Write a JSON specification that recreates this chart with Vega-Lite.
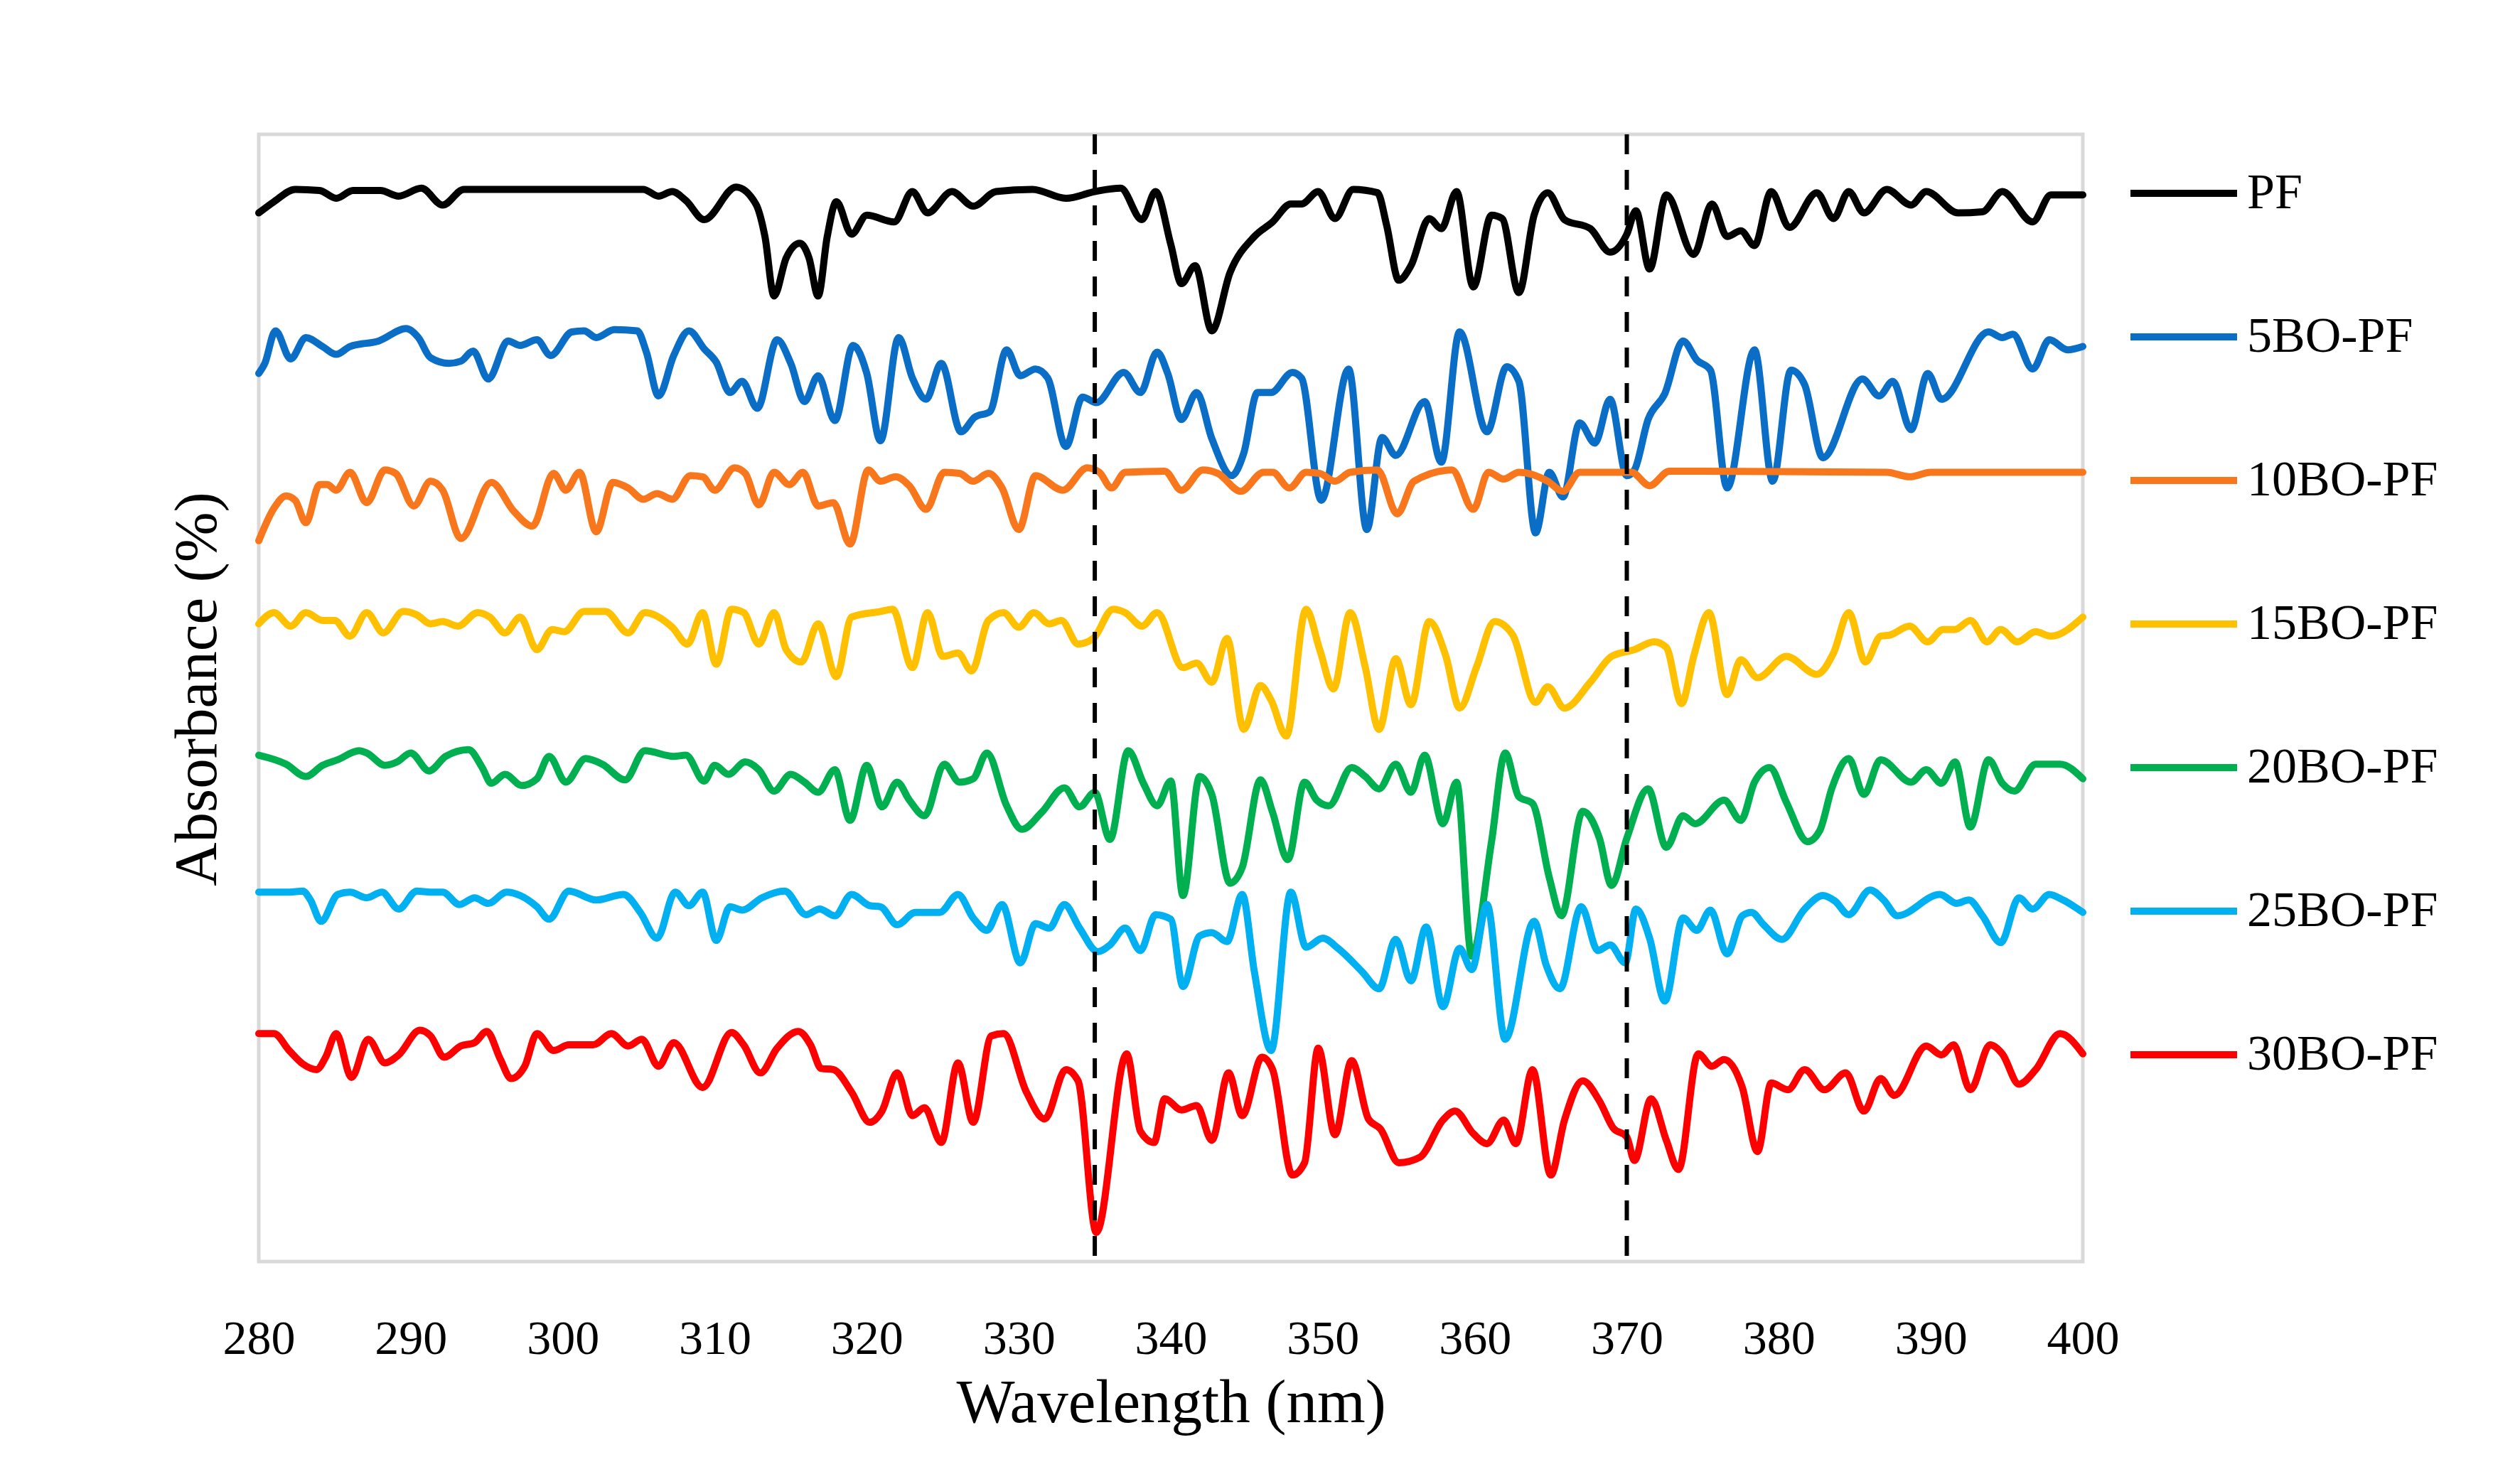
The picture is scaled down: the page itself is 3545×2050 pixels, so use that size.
{
  "$schema": "https://vega.github.io/schema/vega-lite/v6.json",
  "width": 2566,
  "height": 1586,
  "autosize": {"type": "none"},
  "padding": {"left": 364, "top": 189, "right": 615, "bottom": 275},
  "background": "white",
  "config": {
    "view": {"stroke": "#d9d9d9", "strokeWidth": 5},
    "font": "Liberation Serif"
  },
  "layer": [
    {
      "data": {"values": [
        {"series":"PF","nm":280.0,"abs":93.3},{"series":"PF","nm":281.0,"abs":94.3},{"series":"PF","nm":282.4,"abs":95.4},{"series":"PF","nm":284.0,"abs":95.3},{"series":"PF","nm":285.1,"abs":94.6},{"series":"PF","nm":286.2,"abs":95.3},{"series":"PF","nm":288.0,"abs":95.3},{"series":"PF","nm":289.2,"abs":94.8},{"series":"PF","nm":290.7,"abs":95.5},{"series":"PF","nm":292.1,"abs":94.0},{"series":"PF","nm":293.5,"abs":95.4},{"series":"PF","nm":305.3,"abs":95.4},{"series":"PF","nm":306.3,"abs":94.8},{"series":"PF","nm":307.2,"abs":95.2},{"series":"PF","nm":308.1,"abs":94.4},{"series":"PF","nm":309.3,"abs":92.7},{"series":"PF","nm":311.4,"abs":95.6},{"series":"PF","nm":312.7,"abs":94.1},{"series":"PF","nm":313.3,"abs":91.2},{"series":"PF","nm":313.9,"abs":85.9},{"series":"PF","nm":314.7,"abs":89.3},{"series":"PF","nm":315.6,"abs":90.6},{"series":"PF","nm":316.2,"abs":89.3},{"series":"PF","nm":316.8,"abs":85.9},{"series":"PF","nm":317.4,"abs":91.2},{"series":"PF","nm":318.0,"abs":94.3},{"series":"PF","nm":319.0,"abs":91.4},{"series":"PF","nm":320.0,"abs":93.1},{"series":"PF","nm":321.8,"abs":92.5},{"series":"PF","nm":323.0,"abs":95.2},{"series":"PF","nm":324.0,"abs":93.3},{"series":"PF","nm":325.6,"abs":95.2},{"series":"PF","nm":327.0,"abs":93.9},{"series":"PF","nm":328.5,"abs":95.2},{"series":"PF","nm":330.9,"abs":95.4},{"series":"PF","nm":333.1,"abs":94.6},{"series":"PF","nm":335.0,"abs":95.2},{"series":"PF","nm":336.7,"abs":95.5},{"series":"PF","nm":338.1,"abs":92.7},{"series":"PF","nm":339.0,"abs":95.2},{"series":"PF","nm":340.0,"abs":90.5},{"series":"PF","nm":340.7,"abs":87.0},{"series":"PF","nm":341.6,"abs":88.6},{"series":"PF","nm":342.7,"abs":82.8},{"series":"PF","nm":343.9,"abs":88.0},{"series":"PF","nm":345.5,"abs":91.2},{"series":"PF","nm":346.7,"abs":92.5},{"series":"PF","nm":347.9,"abs":94.1},{"series":"PF","nm":348.6,"abs":94.1},{"series":"PF","nm":349.7,"abs":95.2},{"series":"PF","nm":350.8,"abs":92.8},{"series":"PF","nm":352.0,"abs":95.4},{"series":"PF","nm":353.6,"abs":95.1},{"series":"PF","nm":354.2,"abs":92.2},{"series":"PF","nm":355.0,"abs":87.3},{"series":"PF","nm":355.8,"abs":88.6},{"series":"PF","nm":357.0,"abs":92.8},{"series":"PF","nm":357.8,"abs":91.9},{"series":"PF","nm":358.8,"abs":95.2},{"series":"PF","nm":359.9,"abs":86.7},{"series":"PF","nm":361.1,"abs":93.1},{"series":"PF","nm":361.8,"abs":92.8},{"series":"PF","nm":362.9,"abs":86.2},{"series":"PF","nm":363.9,"abs":93.1},{"series":"PF","nm":364.8,"abs":95.1},{"series":"PF","nm":365.9,"abs":92.7},{"series":"PF","nm":367.6,"abs":91.9},{"series":"PF","nm":368.9,"abs":89.8},{"series":"PF","nm":370.0,"abs":91.4},{"series":"PF","nm":370.6,"abs":93.5},{"series":"PF","nm":371.5,"abs":88.3},{"series":"PF","nm":372.6,"abs":94.9},{"series":"PF","nm":374.4,"abs":89.6},{"series":"PF","nm":375.6,"abs":94.1},{"series":"PF","nm":376.6,"abs":91.2},{"series":"PF","nm":377.5,"abs":91.7},{"series":"PF","nm":378.4,"abs":90.4},{"series":"PF","nm":379.5,"abs":95.2},{"series":"PF","nm":380.7,"abs":92.0},{"series":"PF","nm":382.5,"abs":95.1},{"series":"PF","nm":383.6,"abs":92.8},{"series":"PF","nm":384.6,"abs":95.2},{"series":"PF","nm":385.6,"abs":93.3},{"series":"PF","nm":387.1,"abs":95.4},{"series":"PF","nm":388.7,"abs":94.0},{"series":"PF","nm":389.7,"abs":95.2},{"series":"PF","nm":391.8,"abs":93.3},{"series":"PF","nm":393.4,"abs":93.4},{"series":"PF","nm":394.7,"abs":95.2},{"series":"PF","nm":396.7,"abs":92.5},{"series":"PF","nm":397.9,"abs":94.9},{"series":"PF","nm":400.0,"abs":94.9},

        {"series":"5BO-PF","nm":280.0,"abs":79.0},{"series":"5BO-PF","nm":280.4,"abs":79.9},{"series":"5BO-PF","nm":281.1,"abs":82.8},{"series":"5BO-PF","nm":282.1,"abs":80.3},{"series":"5BO-PF","nm":283.1,"abs":82.2},{"series":"5BO-PF","nm":284.2,"abs":81.4},{"series":"5BO-PF","nm":285.1,"abs":80.7},{"series":"5BO-PF","nm":286.0,"abs":81.4},{"series":"5BO-PF","nm":287.9,"abs":81.9},{"series":"5BO-PF","nm":289.7,"abs":83.0},{"series":"5BO-PF","nm":290.5,"abs":82.2},{"series":"5BO-PF","nm":291.3,"abs":80.4},{"series":"5BO-PF","nm":292.5,"abs":79.9},{"series":"5BO-PF","nm":293.3,"abs":80.1},{"series":"5BO-PF","nm":294.1,"abs":81.0},{"series":"5BO-PF","nm":295.1,"abs":78.5},{"series":"5BO-PF","nm":296.4,"abs":81.9},{"series":"5BO-PF","nm":297.2,"abs":81.5},{"series":"5BO-PF","nm":298.3,"abs":82.0},{"series":"5BO-PF","nm":299.2,"abs":80.6},{"series":"5BO-PF","nm":300.6,"abs":82.7},{"series":"5BO-PF","nm":301.4,"abs":82.8},{"series":"5BO-PF","nm":302.2,"abs":82.2},{"series":"5BO-PF","nm":303.4,"abs":82.9},{"series":"5BO-PF","nm":304.9,"abs":82.8},{"series":"5BO-PF","nm":305.5,"abs":80.9},{"series":"5BO-PF","nm":306.3,"abs":77.0},{"series":"5BO-PF","nm":307.3,"abs":80.6},{"series":"5BO-PF","nm":308.3,"abs":82.8},{"series":"5BO-PF","nm":309.3,"abs":81.2},{"series":"5BO-PF","nm":310.1,"abs":80.0},{"series":"5BO-PF","nm":311.0,"abs":77.3},{"series":"5BO-PF","nm":311.8,"abs":78.3},{"series":"5BO-PF","nm":312.8,"abs":75.9},{"series":"5BO-PF","nm":314.1,"abs":82.0},{"series":"5BO-PF","nm":315.0,"abs":79.9},{"series":"5BO-PF","nm":315.9,"abs":76.5},{"series":"5BO-PF","nm":316.8,"abs":78.8},{"series":"5BO-PF","nm":317.9,"abs":74.8},{"series":"5BO-PF","nm":319.1,"abs":81.5},{"series":"5BO-PF","nm":320.0,"abs":79.0},{"series":"5BO-PF","nm":320.9,"abs":73.0},{"series":"5BO-PF","nm":322.1,"abs":82.2},{"series":"5BO-PF","nm":323.0,"abs":78.6},{"series":"5BO-PF","nm":323.9,"abs":76.7},{"series":"5BO-PF","nm":324.9,"abs":79.9},{"series":"5BO-PF","nm":326.2,"abs":73.8},{"series":"5BO-PF","nm":327.1,"abs":75.1},{"series":"5BO-PF","nm":328.1,"abs":75.6},{"series":"5BO-PF","nm":329.2,"abs":81.1},{"series":"5BO-PF","nm":330.1,"abs":78.8},{"series":"5BO-PF","nm":331.1,"abs":79.4},{"series":"5BO-PF","nm":331.9,"abs":78.6},{"series":"5BO-PF","nm":333.1,"abs":72.5},{"series":"5BO-PF","nm":334.2,"abs":76.9},{"series":"5BO-PF","nm":335.1,"abs":76.4},{"series":"5BO-PF","nm":336.9,"abs":79.1},{"series":"5BO-PF","nm":338.0,"abs":77.3},{"series":"5BO-PF","nm":339.1,"abs":80.9},{"series":"5BO-PF","nm":339.8,"abs":79.0},{"series":"5BO-PF","nm":340.7,"abs":74.9},{"series":"5BO-PF","nm":341.7,"abs":77.3},{"series":"5BO-PF","nm":342.7,"abs":73.2},{"series":"5BO-PF","nm":344.0,"abs":69.9},{"series":"5BO-PF","nm":344.8,"abs":71.9},{"series":"5BO-PF","nm":345.7,"abs":77.3},{"series":"5BO-PF","nm":346.6,"abs":77.3},{"series":"5BO-PF","nm":348.0,"abs":79.1},{"series":"5BO-PF","nm":348.6,"abs":78.6},{"series":"5BO-PF","nm":349.9,"abs":67.7},{"series":"5BO-PF","nm":351.7,"abs":79.4},{"series":"5BO-PF","nm":352.9,"abs":65.1},{"series":"5BO-PF","nm":353.9,"abs":73.3},{"series":"5BO-PF","nm":354.8,"abs":71.7},{"series":"5BO-PF","nm":356.7,"abs":76.5},{"series":"5BO-PF","nm":357.8,"abs":71.1},{"series":"5BO-PF","nm":359.0,"abs":82.7},{"series":"5BO-PF","nm":360.8,"abs":73.8},{"series":"5BO-PF","nm":362.1,"abs":79.6},{"series":"5BO-PF","nm":362.9,"abs":78.3},{"series":"5BO-PF","nm":364.0,"abs":64.8},{"series":"5BO-PF","nm":364.9,"abs":70.2},{"series":"5BO-PF","nm":365.8,"abs":68.0},{"series":"5BO-PF","nm":366.9,"abs":74.6},{"series":"5BO-PF","nm":367.9,"abs":72.8},{"series":"5BO-PF","nm":368.9,"abs":76.7},{"series":"5BO-PF","nm":370.0,"abs":69.9},{"series":"5BO-PF","nm":370.5,"abs":70.4},{"series":"5BO-PF","nm":371.4,"abs":74.9},{"series":"5BO-PF","nm":372.5,"abs":77.2},{"series":"5BO-PF","nm":373.7,"abs":81.9},{"series":"5BO-PF","nm":374.6,"abs":80.2},{"series":"5BO-PF","nm":375.5,"abs":79.3},{"series":"5BO-PF","nm":376.6,"abs":68.8},{"series":"5BO-PF","nm":378.4,"abs":81.1},{"series":"5BO-PF","nm":379.6,"abs":69.4},{"series":"5BO-PF","nm":380.8,"abs":79.3},{"series":"5BO-PF","nm":381.7,"abs":78.0},{"series":"5BO-PF","nm":382.9,"abs":71.5},{"series":"5BO-PF","nm":385.5,"abs":78.5},{"series":"5BO-PF","nm":386.6,"abs":77.0},{"series":"5BO-PF","nm":387.5,"abs":78.3},{"series":"5BO-PF","nm":388.7,"abs":74.0},{"series":"5BO-PF","nm":389.8,"abs":79.0},{"series":"5BO-PF","nm":390.7,"abs":76.7},{"series":"5BO-PF","nm":393.8,"abs":82.7},{"series":"5BO-PF","nm":394.7,"abs":82.2},{"series":"5BO-PF","nm":395.4,"abs":82.5},{"series":"5BO-PF","nm":396.7,"abs":79.4},{"series":"5BO-PF","nm":397.8,"abs":82.0},{"series":"5BO-PF","nm":399.0,"abs":81.1},{"series":"5BO-PF","nm":400.0,"abs":81.4},

        {"series":"10BO-PF","nm":280.0,"abs":64.1},{"series":"10BO-PF","nm":281.0,"abs":67.0},{"series":"10BO-PF","nm":281.8,"abs":68.1},{"series":"10BO-PF","nm":282.4,"abs":67.7},{"series":"10BO-PF","nm":283.1,"abs":65.7},{"series":"10BO-PF","nm":284.0,"abs":69.1},{"series":"10BO-PF","nm":284.5,"abs":69.1},{"series":"10BO-PF","nm":285.1,"abs":68.6},{"series":"10BO-PF","nm":286.0,"abs":70.2},{"series":"10BO-PF","nm":287.1,"abs":67.5},{"series":"10BO-PF","nm":288.3,"abs":70.4},{"series":"10BO-PF","nm":289.0,"abs":70.1},{"series":"10BO-PF","nm":290.2,"abs":67.2},{"series":"10BO-PF","nm":291.3,"abs":69.4},{"series":"10BO-PF","nm":292.1,"abs":68.6},{"series":"10BO-PF","nm":293.3,"abs":64.3},{"series":"10BO-PF","nm":295.3,"abs":69.3},{"series":"10BO-PF","nm":296.8,"abs":66.7},{"series":"10BO-PF","nm":298.0,"abs":65.4},{"series":"10BO-PF","nm":299.4,"abs":70.1},{"series":"10BO-PF","nm":300.2,"abs":68.6},{"series":"10BO-PF","nm":301.1,"abs":70.2},{"series":"10BO-PF","nm":302.2,"abs":64.9},{"series":"10BO-PF","nm":303.3,"abs":69.3},{"series":"10BO-PF","nm":304.3,"abs":68.8},{"series":"10BO-PF","nm":305.3,"abs":67.8},{"series":"10BO-PF","nm":306.2,"abs":68.3},{"series":"10BO-PF","nm":307.2,"abs":67.8},{"series":"10BO-PF","nm":308.4,"abs":69.9},{"series":"10BO-PF","nm":309.2,"abs":69.8},{"series":"10BO-PF","nm":310.0,"abs":68.6},{"series":"10BO-PF","nm":311.3,"abs":70.6},{"series":"10BO-PF","nm":312.0,"abs":70.1},{"series":"10BO-PF","nm":312.9,"abs":67.3},{"series":"10BO-PF","nm":313.9,"abs":70.2},{"series":"10BO-PF","nm":314.9,"abs":69.1},{"series":"10BO-PF","nm":315.8,"abs":70.2},{"series":"10BO-PF","nm":316.8,"abs":67.2},{"series":"10BO-PF","nm":317.8,"abs":67.5},{"series":"10BO-PF","nm":318.9,"abs":63.8},{"series":"10BO-PF","nm":320.1,"abs":70.4},{"series":"10BO-PF","nm":320.9,"abs":69.4},{"series":"10BO-PF","nm":321.9,"abs":69.8},{"series":"10BO-PF","nm":322.8,"abs":69.0},{"series":"10BO-PF","nm":323.9,"abs":66.9},{"series":"10BO-PF","nm":325.1,"abs":70.2},{"series":"10BO-PF","nm":326.1,"abs":70.1},{"series":"10BO-PF","nm":327.0,"abs":69.4},{"series":"10BO-PF","nm":328.0,"abs":70.1},{"series":"10BO-PF","nm":328.9,"abs":68.8},{"series":"10BO-PF","nm":330.0,"abs":65.1},{"series":"10BO-PF","nm":331.1,"abs":69.9},{"series":"10BO-PF","nm":332.9,"abs":68.6},{"series":"10BO-PF","nm":334.5,"abs":70.6},{"series":"10BO-PF","nm":335.3,"abs":70.2},{"series":"10BO-PF","nm":336.1,"abs":68.8},{"series":"10BO-PF","nm":337.0,"abs":70.2},{"series":"10BO-PF","nm":339.6,"abs":70.3},{"series":"10BO-PF","nm":340.7,"abs":68.6},{"series":"10BO-PF","nm":342.1,"abs":70.4},{"series":"10BO-PF","nm":343.1,"abs":70.1},{"series":"10BO-PF","nm":344.6,"abs":68.5},{"series":"10BO-PF","nm":346.1,"abs":70.2},{"series":"10BO-PF","nm":346.7,"abs":70.2},{"series":"10BO-PF","nm":347.8,"abs":68.8},{"series":"10BO-PF","nm":348.9,"abs":70.2},{"series":"10BO-PF","nm":349.8,"abs":70.1},{"series":"10BO-PF","nm":350.8,"abs":69.4},{"series":"10BO-PF","nm":351.8,"abs":70.2},{"series":"10BO-PF","nm":353.6,"abs":70.4},{"series":"10BO-PF","nm":354.9,"abs":66.5},{"series":"10BO-PF","nm":356.0,"abs":69.4},{"series":"10BO-PF","nm":358.5,"abs":70.4},{"series":"10BO-PF","nm":359.9,"abs":66.9},{"series":"10BO-PF","nm":360.9,"abs":70.2},{"series":"10BO-PF","nm":361.9,"abs":69.6},{"series":"10BO-PF","nm":362.9,"abs":70.2},{"series":"10BO-PF","nm":364.8,"abs":69.4},{"series":"10BO-PF","nm":365.8,"abs":68.5},{"series":"10BO-PF","nm":366.9,"abs":70.2},{"series":"10BO-PF","nm":370.3,"abs":70.2},{"series":"10BO-PF","nm":371.5,"abs":69.0},{"series":"10BO-PF","nm":372.8,"abs":70.3},{"series":"10BO-PF","nm":387.1,"abs":70.2},{"series":"10BO-PF","nm":388.6,"abs":69.8},{"series":"10BO-PF","nm":390.0,"abs":70.2},{"series":"10BO-PF","nm":400.0,"abs":70.2},

        {"series":"15BO-PF","nm":280.0,"abs":56.7},{"series":"15BO-PF","nm":281.0,"abs":57.7},{"series":"15BO-PF","nm":282.1,"abs":56.5},{"series":"15BO-PF","nm":283.1,"abs":57.7},{"series":"15BO-PF","nm":284.2,"abs":57.0},{"series":"15BO-PF","nm":285.0,"abs":57.0},{"series":"15BO-PF","nm":286.0,"abs":55.6},{"series":"15BO-PF","nm":287.1,"abs":57.7},{"series":"15BO-PF","nm":288.2,"abs":55.9},{"series":"15BO-PF","nm":289.5,"abs":57.8},{"series":"15BO-PF","nm":290.4,"abs":57.5},{"series":"15BO-PF","nm":291.3,"abs":56.7},{"series":"15BO-PF","nm":292.1,"abs":56.9},{"series":"15BO-PF","nm":293.1,"abs":56.5},{"series":"15BO-PF","nm":294.4,"abs":57.7},{"series":"15BO-PF","nm":295.2,"abs":57.3},{"series":"15BO-PF","nm":296.2,"abs":55.9},{"series":"15BO-PF","nm":297.2,"abs":57.3},{"series":"15BO-PF","nm":298.3,"abs":54.4},{"series":"15BO-PF","nm":299.3,"abs":56.2},{"series":"15BO-PF","nm":300.1,"abs":56.0},{"series":"15BO-PF","nm":301.4,"abs":57.8},{"series":"15BO-PF","nm":302.8,"abs":57.8},{"series":"15BO-PF","nm":304.3,"abs":55.9},{"series":"15BO-PF","nm":305.4,"abs":57.7},{"series":"15BO-PF","nm":307.2,"abs":56.4},{"series":"15BO-PF","nm":308.2,"abs":54.9},{"series":"15BO-PF","nm":309.2,"abs":57.7},{"series":"15BO-PF","nm":310.1,"abs":53.1},{"series":"15BO-PF","nm":311.1,"abs":58.0},{"series":"15BO-PF","nm":311.9,"abs":57.7},{"series":"15BO-PF","nm":312.9,"abs":54.9},{"series":"15BO-PF","nm":313.9,"abs":57.7},{"series":"15BO-PF","nm":314.7,"abs":54.4},{"series":"15BO-PF","nm":315.7,"abs":53.3},{"series":"15BO-PF","nm":316.8,"abs":56.7},{"series":"15BO-PF","nm":318.0,"abs":52.0},{"series":"15BO-PF","nm":319.0,"abs":57.3},{"series":"15BO-PF","nm":320.9,"abs":57.8},{"series":"15BO-PF","nm":321.7,"abs":58.0},{"series":"15BO-PF","nm":323.0,"abs":52.8},{"series":"15BO-PF","nm":324.0,"abs":57.7},{"series":"15BO-PF","nm":325.0,"abs":53.8},{"series":"15BO-PF","nm":326.0,"abs":54.1},{"series":"15BO-PF","nm":326.9,"abs":52.5},{"series":"15BO-PF","nm":328.0,"abs":57.0},{"series":"15BO-PF","nm":329.0,"abs":57.7},{"series":"15BO-PF","nm":330.0,"abs":56.4},{"series":"15BO-PF","nm":331.0,"abs":57.7},{"series":"15BO-PF","nm":332.0,"abs":56.7},{"series":"15BO-PF","nm":332.8,"abs":57.0},{"series":"15BO-PF","nm":333.9,"abs":54.9},{"series":"15BO-PF","nm":334.9,"abs":55.4},{"series":"15BO-PF","nm":336.2,"abs":58.0},{"series":"15BO-PF","nm":337.0,"abs":57.7},{"series":"15BO-PF","nm":338.1,"abs":56.5},{"series":"15BO-PF","nm":339.1,"abs":57.7},{"series":"15BO-PF","nm":340.8,"abs":52.8},{"series":"15BO-PF","nm":341.7,"abs":53.2},{"series":"15BO-PF","nm":342.7,"abs":51.5},{"series":"15BO-PF","nm":343.7,"abs":55.4},{"series":"15BO-PF","nm":344.8,"abs":47.3},{"series":"15BO-PF","nm":345.9,"abs":51.2},{"series":"15BO-PF","nm":346.6,"abs":49.9},{"series":"15BO-PF","nm":347.6,"abs":46.7},{"series":"15BO-PF","nm":348.9,"abs":58.0},{"series":"15BO-PF","nm":349.8,"abs":54.4},{"series":"15BO-PF","nm":350.7,"abs":50.9},{"series":"15BO-PF","nm":351.8,"abs":57.7},{"series":"15BO-PF","nm":352.8,"abs":52.8},{"series":"15BO-PF","nm":353.7,"abs":47.3},{"series":"15BO-PF","nm":354.8,"abs":53.6},{"series":"15BO-PF","nm":355.8,"abs":49.5},{"series":"15BO-PF","nm":357.0,"abs":56.9},{"series":"15BO-PF","nm":358.1,"abs":53.8},{"series":"15BO-PF","nm":359.0,"abs":49.2},{"series":"15BO-PF","nm":360.1,"abs":52.8},{"series":"15BO-PF","nm":361.3,"abs":56.9},{"series":"15BO-PF","nm":362.5,"abs":55.7},{"series":"15BO-PF","nm":364.0,"abs":49.7},{"series":"15BO-PF","nm":364.8,"abs":51.1},{"series":"15BO-PF","nm":365.9,"abs":49.2},{"series":"15BO-PF","nm":367.6,"abs":51.5},{"series":"15BO-PF","nm":369.0,"abs":53.8},{"series":"15BO-PF","nm":370.5,"abs":54.4},{"series":"15BO-PF","nm":371.8,"abs":55.1},{"series":"15BO-PF","nm":372.6,"abs":54.6},{"series":"15BO-PF","nm":373.6,"abs":49.6},{"series":"15BO-PF","nm":374.4,"abs":53.8},{"series":"15BO-PF","nm":375.4,"abs":57.7},{"series":"15BO-PF","nm":376.6,"abs":50.4},{"series":"15BO-PF","nm":377.5,"abs":53.5},{"series":"15BO-PF","nm":378.6,"abs":51.9},{"series":"15BO-PF","nm":380.5,"abs":53.8},{"series":"15BO-PF","nm":382.5,"abs":52.2},{"series":"15BO-PF","nm":383.6,"abs":54.1},{"series":"15BO-PF","nm":384.6,"abs":57.7},{"series":"15BO-PF","nm":385.7,"abs":53.3},{"series":"15BO-PF","nm":386.7,"abs":55.6},{"series":"15BO-PF","nm":387.3,"abs":55.7},{"series":"15BO-PF","nm":388.6,"abs":56.5},{"series":"15BO-PF","nm":389.8,"abs":55.1},{"series":"15BO-PF","nm":390.8,"abs":56.2},{"series":"15BO-PF","nm":391.6,"abs":56.2},{"series":"15BO-PF","nm":392.6,"abs":57.0},{"series":"15BO-PF","nm":393.7,"abs":55.1},{"series":"15BO-PF","nm":394.6,"abs":56.2},{"series":"15BO-PF","nm":395.7,"abs":55.1},{"series":"15BO-PF","nm":396.9,"abs":56.0},{"series":"15BO-PF","nm":397.9,"abs":55.6},{"series":"15BO-PF","nm":400.0,"abs":57.3},

        {"series":"20BO-PF","nm":280.0,"abs":45.0},{"series":"20BO-PF","nm":281.8,"abs":44.2},{"series":"20BO-PF","nm":283.1,"abs":43.1},{"series":"20BO-PF","nm":284.2,"abs":44.1},{"series":"20BO-PF","nm":285.2,"abs":44.6},{"series":"20BO-PF","nm":286.6,"abs":45.4},{"series":"20BO-PF","nm":287.1,"abs":45.2},{"series":"20BO-PF","nm":288.3,"abs":44.1},{"series":"20BO-PF","nm":289.1,"abs":44.4},{"series":"20BO-PF","nm":290.0,"abs":45.2},{"series":"20BO-PF","nm":291.2,"abs":43.6},{"series":"20BO-PF","nm":292.3,"abs":44.9},{"series":"20BO-PF","nm":293.8,"abs":45.5},{"series":"20BO-PF","nm":294.7,"abs":43.9},{"series":"20BO-PF","nm":295.3,"abs":42.5},{"series":"20BO-PF","nm":296.2,"abs":43.3},{"series":"20BO-PF","nm":297.3,"abs":42.3},{"series":"20BO-PF","nm":298.3,"abs":42.9},{"series":"20BO-PF","nm":299.1,"abs":44.9},{"series":"20BO-PF","nm":300.2,"abs":42.6},{"series":"20BO-PF","nm":301.5,"abs":44.7},{"series":"20BO-PF","nm":302.6,"abs":44.2},{"series":"20BO-PF","nm":304.1,"abs":42.8},{"series":"20BO-PF","nm":305.4,"abs":45.4},{"series":"20BO-PF","nm":307.3,"abs":44.9},{"series":"20BO-PF","nm":308.1,"abs":45.0},{"series":"20BO-PF","nm":309.3,"abs":42.7},{"series":"20BO-PF","nm":310.0,"abs":44.1},{"series":"20BO-PF","nm":310.9,"abs":43.3},{"series":"20BO-PF","nm":312.0,"abs":44.4},{"series":"20BO-PF","nm":312.9,"abs":43.7},{"series":"20BO-PF","nm":313.9,"abs":41.8},{"series":"20BO-PF","nm":315.0,"abs":43.3},{"series":"20BO-PF","nm":315.9,"abs":42.6},{"series":"20BO-PF","nm":316.8,"abs":41.7},{"series":"20BO-PF","nm":317.9,"abs":43.7},{"series":"20BO-PF","nm":318.9,"abs":39.2},{"series":"20BO-PF","nm":320.0,"abs":44.1},{"series":"20BO-PF","nm":321.0,"abs":40.4},{"series":"20BO-PF","nm":322.0,"abs":42.6},{"series":"20BO-PF","nm":322.8,"abs":41.0},{"series":"20BO-PF","nm":323.8,"abs":39.6},{"series":"20BO-PF","nm":325.1,"abs":44.2},{"series":"20BO-PF","nm":326.1,"abs":42.6},{"series":"20BO-PF","nm":327.0,"abs":42.9},{"series":"20BO-PF","nm":327.9,"abs":45.2},{"series":"20BO-PF","nm":329.2,"abs":40.5},{"series":"20BO-PF","nm":330.2,"abs":38.4},{"series":"20BO-PF","nm":331.5,"abs":39.9},{"series":"20BO-PF","nm":333.0,"abs":42.1},{"series":"20BO-PF","nm":334.0,"abs":40.4},{"series":"20BO-PF","nm":335.0,"abs":41.7},{"series":"20BO-PF","nm":336.0,"abs":37.5},{"series":"20BO-PF","nm":337.2,"abs":45.4},{"series":"20BO-PF","nm":338.2,"abs":42.5},{"series":"20BO-PF","nm":339.1,"abs":40.5},{"series":"20BO-PF","nm":340.0,"abs":42.7},{"series":"20BO-PF","nm":340.8,"abs":32.5},{"series":"20BO-PF","nm":341.9,"abs":43.1},{"series":"20BO-PF","nm":342.7,"abs":41.5},{"series":"20BO-PF","nm":343.9,"abs":33.6},{"series":"20BO-PF","nm":344.7,"abs":35.0},{"series":"20BO-PF","nm":345.9,"abs":42.8},{"series":"20BO-PF","nm":346.7,"abs":39.9},{"series":"20BO-PF","nm":347.7,"abs":35.7},{"series":"20BO-PF","nm":348.8,"abs":42.6},{"series":"20BO-PF","nm":349.6,"abs":41.0},{"series":"20BO-PF","nm":350.4,"abs":40.5},{"series":"20BO-PF","nm":351.9,"abs":43.9},{"series":"20BO-PF","nm":352.8,"abs":43.1},{"series":"20BO-PF","nm":353.7,"abs":42.0},{"series":"20BO-PF","nm":354.8,"abs":44.2},{"series":"20BO-PF","nm":355.8,"abs":41.7},{"series":"20BO-PF","nm":356.7,"abs":45.0},{"series":"20BO-PF","nm":357.9,"abs":38.9},{"series":"20BO-PF","nm":358.8,"abs":42.6},{"series":"20BO-PF","nm":359.8,"abs":27.1},{"series":"20BO-PF","nm":361.1,"abs":37.3},{"series":"20BO-PF","nm":362.0,"abs":45.2},{"series":"20BO-PF","nm":362.9,"abs":41.3},{"series":"20BO-PF","nm":363.8,"abs":40.7},{"series":"20BO-PF","nm":364.9,"abs":34.1},{"series":"20BO-PF","nm":365.7,"abs":30.7},{"series":"20BO-PF","nm":367.1,"abs":40.0},{"series":"20BO-PF","nm":368.2,"abs":37.6},{"series":"20BO-PF","nm":369.0,"abs":33.4},{"series":"20BO-PF","nm":370.0,"abs":37.6},{"series":"20BO-PF","nm":371.4,"abs":42.0},{"series":"20BO-PF","nm":372.6,"abs":36.8},{"series":"20BO-PF","nm":373.7,"abs":39.6},{"series":"20BO-PF","nm":374.5,"abs":38.9},{"series":"20BO-PF","nm":376.4,"abs":41.0},{"series":"20BO-PF","nm":377.5,"abs":39.2},{"series":"20BO-PF","nm":378.4,"abs":42.6},{"series":"20BO-PF","nm":379.4,"abs":43.9},{"series":"20BO-PF","nm":380.5,"abs":40.8},{"series":"20BO-PF","nm":381.9,"abs":37.3},{"series":"20BO-PF","nm":382.7,"abs":38.3},{"series":"20BO-PF","nm":383.5,"abs":42.1},{"series":"20BO-PF","nm":384.6,"abs":44.7},{"series":"20BO-PF","nm":385.6,"abs":41.5},{"series":"20BO-PF","nm":386.7,"abs":44.6},{"series":"20BO-PF","nm":388.7,"abs":42.6},{"series":"20BO-PF","nm":389.7,"abs":43.7},{"series":"20BO-PF","nm":390.7,"abs":42.5},{"series":"20BO-PF","nm":391.6,"abs":44.4},{"series":"20BO-PF","nm":392.6,"abs":38.6},{"series":"20BO-PF","nm":393.8,"abs":44.6},{"series":"20BO-PF","nm":394.7,"abs":42.5},{"series":"20BO-PF","nm":395.5,"abs":41.8},{"series":"20BO-PF","nm":396.9,"abs":44.2},{"series":"20BO-PF","nm":398.5,"abs":44.2},{"series":"20BO-PF","nm":400.0,"abs":42.9},

        {"series":"25BO-PF","nm":280.0,"abs":32.8},{"series":"25BO-PF","nm":282.0,"abs":32.8},{"series":"25BO-PF","nm":282.9,"abs":32.9},{"series":"25BO-PF","nm":283.4,"abs":32.1},{"series":"25BO-PF","nm":284.1,"abs":30.2},{"series":"25BO-PF","nm":285.2,"abs":32.6},{"series":"25BO-PF","nm":286.0,"abs":32.8},{"series":"25BO-PF","nm":287.1,"abs":32.3},{"series":"25BO-PF","nm":288.1,"abs":32.8},{"series":"25BO-PF","nm":289.2,"abs":31.3},{"series":"25BO-PF","nm":290.4,"abs":32.9},{"series":"25BO-PF","nm":291.3,"abs":32.8},{"series":"25BO-PF","nm":292.1,"abs":32.8},{"series":"25BO-PF","nm":293.2,"abs":31.7},{"series":"25BO-PF","nm":294.2,"abs":32.3},{"series":"25BO-PF","nm":295.1,"abs":31.8},{"series":"25BO-PF","nm":296.3,"abs":32.8},{"series":"25BO-PF","nm":297.2,"abs":32.5},{"series":"25BO-PF","nm":298.3,"abs":31.5},{"series":"25BO-PF","nm":299.1,"abs":30.4},{"series":"25BO-PF","nm":300.4,"abs":32.9},{"series":"25BO-PF","nm":302.2,"abs":32.1},{"series":"25BO-PF","nm":304.0,"abs":32.6},{"series":"25BO-PF","nm":305.1,"abs":31.0},{"series":"25BO-PF","nm":306.2,"abs":28.7},{"series":"25BO-PF","nm":307.4,"abs":32.8},{"series":"25BO-PF","nm":308.3,"abs":31.6},{"series":"25BO-PF","nm":309.2,"abs":32.8},{"series":"25BO-PF","nm":310.1,"abs":28.5},{"series":"25BO-PF","nm":311.0,"abs":31.5},{"series":"25BO-PF","nm":311.8,"abs":31.2},{"series":"25BO-PF","nm":313.1,"abs":32.3},{"series":"25BO-PF","nm":314.6,"abs":32.9},{"series":"25BO-PF","nm":316.0,"abs":30.8},{"series":"25BO-PF","nm":316.9,"abs":31.3},{"series":"25BO-PF","nm":317.9,"abs":30.7},{"series":"25BO-PF","nm":319.0,"abs":32.6},{"series":"25BO-PF","nm":320.2,"abs":31.6},{"series":"25BO-PF","nm":320.9,"abs":31.5},{"series":"25BO-PF","nm":322.0,"abs":29.9},{"series":"25BO-PF","nm":323.2,"abs":31.0},{"series":"25BO-PF","nm":324.8,"abs":31.0},{"series":"25BO-PF","nm":326.0,"abs":32.6},{"series":"25BO-PF","nm":327.0,"abs":30.5},{"series":"25BO-PF","nm":327.9,"abs":29.4},{"series":"25BO-PF","nm":328.9,"abs":31.7},{"series":"25BO-PF","nm":330.1,"abs":26.5},{"series":"25BO-PF","nm":331.1,"abs":30.0},{"series":"25BO-PF","nm":332.0,"abs":29.6},{"series":"25BO-PF","nm":333.0,"abs":31.7},{"series":"25BO-PF","nm":334.0,"abs":29.6},{"series":"25BO-PF","nm":335.2,"abs":27.5},{"series":"25BO-PF","nm":336.0,"abs":28.1},{"series":"25BO-PF","nm":337.0,"abs":29.6},{"series":"25BO-PF","nm":338.0,"abs":27.6},{"series":"25BO-PF","nm":339.0,"abs":30.8},{"series":"25BO-PF","nm":340.0,"abs":30.4},{"series":"25BO-PF","nm":340.8,"abs":24.4},{"series":"25BO-PF","nm":341.9,"abs":28.9},{"series":"25BO-PF","nm":342.7,"abs":29.2},{"series":"25BO-PF","nm":343.7,"abs":28.4},{"series":"25BO-PF","nm":344.7,"abs":32.6},{"series":"25BO-PF","nm":345.5,"abs":25.7},{"series":"25BO-PF","nm":346.6,"abs":18.7},{"series":"25BO-PF","nm":347.9,"abs":32.8},{"series":"25BO-PF","nm":348.9,"abs":27.9},{"series":"25BO-PF","nm":350.0,"abs":28.7},{"series":"25BO-PF","nm":351.0,"abs":27.8},{"series":"25BO-PF","nm":352.6,"abs":25.7},{"series":"25BO-PF","nm":353.7,"abs":24.2},{"series":"25BO-PF","nm":354.8,"abs":28.6},{"series":"25BO-PF","nm":355.8,"abs":24.9},{"series":"25BO-PF","nm":356.8,"abs":29.7},{"series":"25BO-PF","nm":357.9,"abs":22.6},{"series":"25BO-PF","nm":359.0,"abs":27.8},{"series":"25BO-PF","nm":359.8,"abs":25.9},{"series":"25BO-PF","nm":360.8,"abs":31.7},{"series":"25BO-PF","nm":362.0,"abs":19.7},{"series":"25BO-PF","nm":363.9,"abs":30.2},{"series":"25BO-PF","nm":364.7,"abs":26.3},{"series":"25BO-PF","nm":365.6,"abs":24.2},{"series":"25BO-PF","nm":367.0,"abs":31.5},{"series":"25BO-PF","nm":368.1,"abs":27.6},{"series":"25BO-PF","nm":368.9,"abs":28.1},{"series":"25BO-PF","nm":369.9,"abs":26.5},{"series":"25BO-PF","nm":370.6,"abs":31.3},{"series":"25BO-PF","nm":371.5,"abs":28.7},{"series":"25BO-PF","nm":372.5,"abs":23.1},{"series":"25BO-PF","nm":373.7,"abs":30.5},{"series":"25BO-PF","nm":374.6,"abs":29.4},{"series":"25BO-PF","nm":375.5,"abs":31.2},{"series":"25BO-PF","nm":376.6,"abs":27.3},{"series":"25BO-PF","nm":377.6,"abs":30.7},{"series":"25BO-PF","nm":378.2,"abs":31.0},{"series":"25BO-PF","nm":379.0,"abs":29.9},{"series":"25BO-PF","nm":380.2,"abs":28.6},{"series":"25BO-PF","nm":381.7,"abs":31.3},{"series":"25BO-PF","nm":382.9,"abs":32.5},{"series":"25BO-PF","nm":383.7,"abs":32.0},{"series":"25BO-PF","nm":384.6,"abs":30.8},{"series":"25BO-PF","nm":386.0,"abs":33.0},{"series":"25BO-PF","nm":386.9,"abs":32.1},{"series":"25BO-PF","nm":387.8,"abs":30.7},{"series":"25BO-PF","nm":390.6,"abs":32.6},{"series":"25BO-PF","nm":391.7,"abs":31.8},{"series":"25BO-PF","nm":392.5,"abs":32.1},{"series":"25BO-PF","nm":393.4,"abs":30.7},{"series":"25BO-PF","nm":394.6,"abs":28.3},{"series":"25BO-PF","nm":395.8,"abs":32.3},{"series":"25BO-PF","nm":396.7,"abs":31.3},{"series":"25BO-PF","nm":397.8,"abs":32.6},{"series":"25BO-PF","nm":398.7,"abs":32.1},{"series":"25BO-PF","nm":400.0,"abs":31.0},

        {"series":"30BO-PF","nm":280.0,"abs":20.2},{"series":"30BO-PF","nm":281.0,"abs":20.2},{"series":"30BO-PF","nm":282.0,"abs":18.7},{"series":"30BO-PF","nm":282.9,"abs":17.5},{"series":"30BO-PF","nm":283.8,"abs":17.0},{"series":"30BO-PF","nm":284.4,"abs":18.1},{"series":"30BO-PF","nm":285.1,"abs":20.2},{"series":"30BO-PF","nm":286.1,"abs":16.3},{"series":"30BO-PF","nm":287.2,"abs":19.7},{"series":"30BO-PF","nm":288.3,"abs":17.6},{"series":"30BO-PF","nm":289.2,"abs":18.3},{"series":"30BO-PF","nm":290.6,"abs":20.5},{"series":"30BO-PF","nm":291.3,"abs":20.0},{"series":"30BO-PF","nm":292.2,"abs":18.1},{"series":"30BO-PF","nm":293.3,"abs":19.1},{"series":"30BO-PF","nm":294.2,"abs":19.4},{"series":"30BO-PF","nm":295.0,"abs":20.4},{"series":"30BO-PF","nm":295.9,"abs":17.9},{"series":"30BO-PF","nm":296.6,"abs":16.2},{"series":"30BO-PF","nm":297.5,"abs":17.3},{"series":"30BO-PF","nm":298.3,"abs":20.2},{"series":"30BO-PF","nm":299.4,"abs":18.7},{"series":"30BO-PF","nm":300.4,"abs":19.2},{"series":"30BO-PF","nm":302.0,"abs":19.2},{"series":"30BO-PF","nm":303.2,"abs":20.2},{"series":"30BO-PF","nm":304.3,"abs":19.1},{"series":"30BO-PF","nm":305.2,"abs":19.7},{"series":"30BO-PF","nm":306.3,"abs":17.3},{"series":"30BO-PF","nm":307.3,"abs":19.4},{"series":"30BO-PF","nm":309.2,"abs":15.4},{"series":"30BO-PF","nm":311.1,"abs":20.3},{"series":"30BO-PF","nm":311.9,"abs":19.2},{"series":"30BO-PF","nm":313.0,"abs":16.7},{"series":"30BO-PF","nm":314.1,"abs":18.9},{"series":"30BO-PF","nm":315.5,"abs":20.4},{"series":"30BO-PF","nm":316.3,"abs":19.2},{"series":"30BO-PF","nm":317.0,"abs":17.1},{"series":"30BO-PF","nm":317.8,"abs":17.0},{"series":"30BO-PF","nm":319.0,"abs":15.0},{"series":"30BO-PF","nm":320.2,"abs":12.3},{"series":"30BO-PF","nm":321.0,"abs":13.3},{"series":"30BO-PF","nm":322.0,"abs":16.7},{"series":"30BO-PF","nm":323.0,"abs":12.9},{"series":"30BO-PF","nm":323.8,"abs":13.6},{"series":"30BO-PF","nm":324.9,"abs":10.5},{"series":"30BO-PF","nm":326.0,"abs":17.6},{"series":"30BO-PF","nm":327.0,"abs":12.3},{"series":"30BO-PF","nm":328.2,"abs":20.0},{"series":"30BO-PF","nm":329.0,"abs":20.2},{"series":"30BO-PF","nm":330.5,"abs":15.0},{"series":"30BO-PF","nm":331.7,"abs":12.6},{"series":"30BO-PF","nm":333.1,"abs":17.0},{"series":"30BO-PF","nm":333.9,"abs":16.0},{"series":"30BO-PF","nm":335.1,"abs":2.5},{"series":"30BO-PF","nm":337.1,"abs":18.4},{"series":"30BO-PF","nm":338.0,"abs":11.5},{"series":"30BO-PF","nm":338.9,"abs":10.5},{"series":"30BO-PF","nm":339.6,"abs":14.4},{"series":"30BO-PF","nm":340.7,"abs":13.4},{"series":"30BO-PF","nm":341.7,"abs":13.8},{"series":"30BO-PF","nm":342.7,"abs":10.7},{"series":"30BO-PF","nm":343.8,"abs":16.7},{"series":"30BO-PF","nm":344.7,"abs":12.9},{"series":"30BO-PF","nm":346.0,"abs":18.1},{"series":"30BO-PF","nm":346.7,"abs":17.0},{"series":"30BO-PF","nm":348.0,"abs":7.6},{"series":"30BO-PF","nm":348.8,"abs":8.7},{"series":"30BO-PF","nm":349.7,"abs":18.9},{"series":"30BO-PF","nm":350.8,"abs":11.2},{"series":"30BO-PF","nm":351.9,"abs":17.8},{"series":"30BO-PF","nm":353.0,"abs":12.6},{"series":"30BO-PF","nm":353.8,"abs":11.7},{"series":"30BO-PF","nm":355.0,"abs":8.7},{"series":"30BO-PF","nm":356.4,"abs":9.2},{"series":"30BO-PF","nm":357.9,"abs":12.5},{"series":"30BO-PF","nm":358.7,"abs":13.3},{"series":"30BO-PF","nm":359.9,"abs":11.3},{"series":"30BO-PF","nm":360.8,"abs":10.4},{"series":"30BO-PF","nm":361.9,"abs":12.5},{"series":"30BO-PF","nm":362.7,"abs":10.4},{"series":"30BO-PF","nm":363.8,"abs":17.0},{"series":"30BO-PF","nm":365.0,"abs":7.6},{"series":"30BO-PF","nm":365.9,"abs":12.5},{"series":"30BO-PF","nm":367.1,"abs":16.0},{"series":"30BO-PF","nm":368.2,"abs":14.2},{"series":"30BO-PF","nm":369.1,"abs":11.8},{"series":"30BO-PF","nm":370.0,"abs":11.0},{"series":"30BO-PF","nm":370.5,"abs":8.9},{"series":"30BO-PF","nm":371.6,"abs":14.4},{"series":"30BO-PF","nm":372.6,"abs":10.7},{"series":"30BO-PF","nm":373.4,"abs":8.1},{"series":"30BO-PF","nm":374.7,"abs":18.4},{"series":"30BO-PF","nm":375.6,"abs":17.3},{"series":"30BO-PF","nm":376.4,"abs":17.9},{"series":"30BO-PF","nm":377.6,"abs":15.4},{"series":"30BO-PF","nm":378.6,"abs":9.7},{"series":"30BO-PF","nm":379.5,"abs":15.8},{"series":"30BO-PF","nm":380.6,"abs":15.2},{"series":"30BO-PF","nm":381.7,"abs":17.0},{"series":"30BO-PF","nm":383.0,"abs":15.2},{"series":"30BO-PF","nm":384.4,"abs":16.7},{"series":"30BO-PF","nm":385.6,"abs":13.3},{"series":"30BO-PF","nm":386.7,"abs":16.2},{"series":"30BO-PF","nm":387.6,"abs":14.7},{"series":"30BO-PF","nm":389.7,"abs":19.1},{"series":"30BO-PF","nm":390.7,"abs":18.3},{"series":"30BO-PF","nm":391.5,"abs":19.2},{"series":"30BO-PF","nm":392.6,"abs":15.2},{"series":"30BO-PF","nm":393.9,"abs":19.2},{"series":"30BO-PF","nm":394.7,"abs":18.4},{"series":"30BO-PF","nm":395.8,"abs":15.7},{"series":"30BO-PF","nm":396.9,"abs":17.0},{"series":"30BO-PF","nm":398.5,"abs":20.2},{"series":"30BO-PF","nm":400.0,"abs":18.4}
      ]},
      "mark": {"type": "line", "interpolate": "monotone", "strokeWidth": 10, "strokeCap": "round", "strokeJoin": "round"},
      "encoding": {
        "x": {
          "field": "nm",
          "type": "quantitative",
          "scale": {"domain": [280, 400], "nice": false, "zero": false},
          "axis": {
            "title": "Wavelength (nm)",
            "values": [280, 290, 300, 310, 320, 330, 340, 350, 360, 370, 380, 390, 400],
            "grid": false,
            "ticks": false,
            "domain": false,
            "labelFlush": false,
            "labelOverlap": false,
            "labelFont": "Liberation Serif",
            "labelFontSize": 68,
            "labelColor": "black",
            "labelPadding": 75,
            "titleFont": "Liberation Serif",
            "titleFontSize": 87,
            "titleFontWeight": "normal",
            "titleColor": "black",
            "titleY": 225,
            "titleBaseline": "alphabetic"
          }
        },
        "y": {
          "field": "abs",
          "type": "quantitative",
          "scale": {"domain": [-0.1, 100.3], "nice": false, "zero": false},
          "axis": {
            "title": "Absorbance (%)",
            "labels": false,
            "ticks": false,
            "grid": false,
            "domain": false,
            "titleFont": "Liberation Serif",
            "titleFontSize": 85,
            "titleFontWeight": "normal",
            "titleColor": "black",
            "titleAngle": -90,
            "titleX": -87,
            "titleY": 780,
            "titleAlign": "center",
            "titleBaseline": "middle"
          }
        },
        "color": {
          "field": "series",
          "type": "nominal",
          "scale": {
            "domain": ["PF", "5BO-PF", "10BO-PF", "15BO-PF", "20BO-PF", "25BO-PF", "30BO-PF"],
            "range": ["#000000", "#0A6DC6", "#F8761C", "#FFC000", "#00B050", "#00B0F0", "#FF0000"]
          },
          "legend": {
            "title": null,
            "orient": "none",
            "legendX": 2628,
            "legendY": 3,
            "direction": "vertical",
            "padding": 0,
            "symbolType": "stroke",
            "symbolSize": 22500,
            "symbolStrokeWidth": 10,
            "labelFont": "Liberation Serif",
            "labelFontSize": 70,
            "labelColor": "black",
            "labelOffset": 9,
            "labelLimit": 600,
            "rowPadding": 87
          }
        }
      }
    },
    {
      "data": {"values": [{"nm": 335}, {"nm": 370}]},
      "mark": {"type": "rule", "color": "black", "strokeWidth": 6, "strokeDash": [28, 22]},
      "encoding": {"x": {"field": "nm", "type": "quantitative"}}
    }
  ]
}
